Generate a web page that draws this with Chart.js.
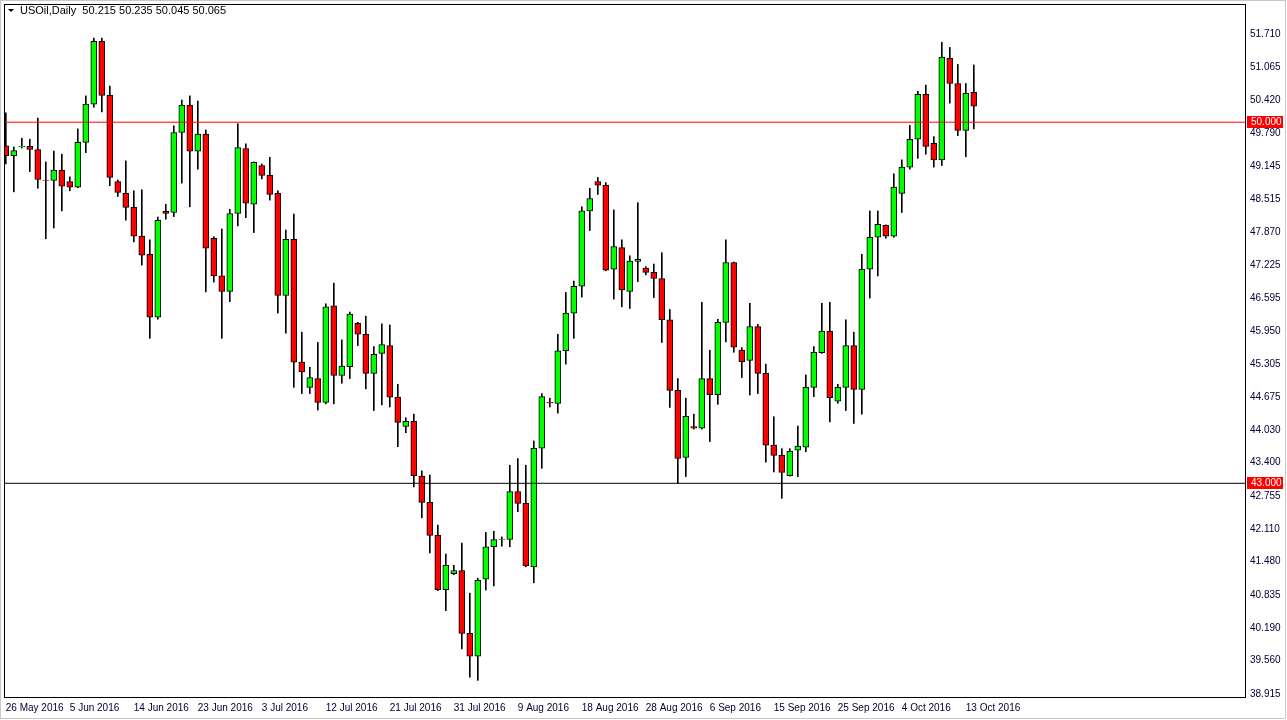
<!DOCTYPE html>
<html>
<head>
<meta charset="utf-8">
<script src="https://cdn.jsdelivr.net/npm/chart.js@4/dist/chart.umd.min.js"></script>
<style>
  html, body { margin: 0; padding: 0; background: #fff; }
  #wrap { width: 1287px; height: 720px; position: relative; }
</style>
</head>
<body>
<div id="wrap"><canvas id="chart"></canvas></div>
<script>
// daily bars, 26 May 2016 .. 13 Oct 2016 (with Sunday bars)
const opens = [49.54,49.35,49.52,49.53,49.47,48.88,48.87,49.07,48.85,48.74,49.61,50.35,51.57,50.52,48.85,48.62,48.35,47.79,47.44,46.22,
  48.27,48.25,49.80,50.33,49.44,49.77,47.75,47.02,46.72,48.23,49.49,48.41,49.16,48.97,48.62,46.64,47.73,45.35,44.86,45.03,
  44.57,46.44,45.09,45.26,46.10,45.89,45.13,45.52,45.67,44.67,44.10,44.20,43.14,42.63,41.99,40.94,41.25,41.31,40.09,39.65,
  41.14,41.77,41.91,41.91,42.84,42.61,41.38,43.68,44.57,44.55,45.57,46.30,46.82,48.28,48.85,48.78,47.15,47.57,46.72,47.30,
  47.17,47.09,46.97,46.17,44.80,43.50,44.10,44.07,45.03,44.72,46.12,47.28,45.58,45.38,46.04,45.13,43.74,43.54,43.15,43.64,
  43.70,44.86,45.53,45.95,44.59,44.86,45.67,44.82,47.15,47.77,48.00,47.79,48.62,49.13,49.67,50.54,49.59,49.27,51.24,50.75,
  49.84,50.58];
const highs = [50.18,49.52,49.69,49.67,50.08,49.23,49.44,49.38,48.94,49.87,50.51,51.63,51.63,50.70,48.88,49.25,48.67,48.69,47.72,48.16,
  48.41,49.93,50.43,50.51,50.41,49.85,47.78,47.93,48.31,49.97,49.58,49.23,49.19,49.32,48.67,47.91,48.22,45.93,45.25,45.73,
  46.48,46.88,45.78,46.32,46.12,46.24,45.65,46.09,46.07,44.92,44.27,44.34,43.24,43.16,42.19,41.63,41.41,41.84,40.87,41.16,
  42.05,42.07,41.96,43.35,43.48,43.35,43.82,44.74,44.65,45.89,46.70,46.92,48.36,48.72,48.93,48.83,48.30,47.72,47.41,48.44,
  47.20,47.25,47.47,46.37,45.03,44.65,44.34,46.51,45.58,46.18,47.72,47.29,45.63,46.49,46.08,45.31,44.29,43.67,43.67,44.11,
  45.10,45.65,46.49,46.51,44.92,46.17,45.93,47.44,48.28,48.28,48.01,49.00,49.27,49.94,50.60,50.72,49.72,51.55,51.45,51.12,
  50.75,51.11];
const lows = [49.19,48.65,49.50,49.04,48.72,47.74,47.95,48.28,48.67,48.73,49.41,50.29,50.20,48.77,48.56,48.10,47.68,47.23,45.81,46.18,
  48.12,48.17,48.82,48.36,49.09,46.71,46.90,45.81,46.52,47.99,48.15,47.86,48.90,48.49,46.30,45.91,44.86,44.74,44.74,44.42,
  44.54,44.54,44.94,45.03,45.67,44.83,44.41,44.52,44.48,43.71,43.98,42.93,42.33,41.65,40.92,40.53,41.23,39.79,39.24,39.18,
  40.93,41.01,41.78,41.77,42.45,41.38,41.07,43.29,44.48,44.36,45.31,45.81,46.61,47.90,48.60,47.12,46.57,46.42,46.39,46.91,
  47.04,46.60,45.73,44.47,43.00,43.13,44.05,44.05,43.81,44.53,45.74,45.54,45.05,44.71,44.74,43.41,43.22,42.71,43.14,43.13,
  43.61,44.68,45.52,44.19,44.55,44.41,44.16,44.34,46.59,47.02,47.75,47.77,48.25,49.09,49.30,49.38,49.13,49.16,50.37,49.74,
  49.33,49.87];
const closes = [49.35,49.45,49.53,49.47,48.89,48.87,49.07,48.76,48.74,49.61,50.35,51.57,50.52,48.93,48.64,48.35,47.79,47.42,46.22,48.10,
  48.23,49.80,50.33,49.44,49.77,47.56,47.02,46.72,48.23,49.51,48.43,49.22,48.97,48.60,46.64,47.73,45.35,45.16,45.05,44.57,
  46.42,45.09,45.27,46.28,45.89,45.13,45.50,45.69,44.67,44.18,44.20,43.15,42.63,41.99,40.94,41.41,41.31,40.09,39.65,41.12,
  41.77,41.91,41.92,42.84,42.61,41.40,43.68,44.68,44.56,45.57,46.30,46.82,48.28,48.52,48.78,47.13,47.59,46.75,47.31,47.34,
  47.09,46.97,46.17,44.80,43.48,44.30,44.07,45.03,44.72,46.12,47.28,45.64,45.36,46.04,45.13,43.74,43.54,43.21,43.62,43.72,
  44.86,45.54,45.95,44.66,44.86,45.67,44.82,47.15,47.77,48.02,47.79,48.74,49.13,49.67,50.54,49.53,49.27,51.26,50.75,49.84,
  50.56,50.31];
const dateLabels = ["26 May 2016","5 Jun 2016","14 Jun 2016","23 Jun 2016","3 Jul 2016","12 Jul 2016","21 Jul 2016","31 Jul 2016",
  "9 Aug 2016","18 Aug 2016","28 Aug 2016","6 Sep 2016","15 Sep 2016","25 Sep 2016","4 Oct 2016","13 Oct 2016"];
const priceTicks = [51.710,51.065,50.420,49.790,49.145,48.515,47.870,47.225,46.595,45.950,45.305,44.675,44.030,43.400,42.755,42.110,
  41.480,40.835,40.190,39.560,38.915];
const levels = [50.000, 43.000];
const levelColors = ["#ff0000", "#000000"];
const header = "USOil,Daily  50.215 50.235 50.045 50.065";

const xMin = -0.1, xMax = 154.9;
const bodies = opens.map((o, i) => ({ x: i, y: [o, closes[i]] }));
const wicks = highs.map((h, i) => ({ x: i, y: [lows[i], h] }));
const bodyColors = opens.map((o, i) => closes[i] >= o ? "#00ff00" : "#ff0000");

const fontFamily = "'Liberation Sans', Arial, sans-serif";
const font = { family: fontFamily, size: 10 };

const levelSets = levels.map((v, k) => ({
  type: "line", data: [{ x: xMin, y: v }, { x: xMax, y: v }], borderColor: levelColors[k],
  borderWidth: 1, pointRadius: 0, fill: false, order: 0
}));

const overlay = {
  id: "overlay",
  afterDraw(chart) {
    const { ctx, chartArea: a, scales: { y } } = chart;
    ctx.save();
    ctx.strokeStyle = "#000";
    ctx.lineWidth = 1;
    ctx.strokeRect(a.left - 0.5, a.top - 0.5, a.right - a.left + 1, a.bottom - a.top + 1);
    ctx.strokeStyle = "#c8c8c8";
    ctx.strokeRect(0.5, 0.5, 1285, 718);
    ctx.font = "10px " + fontFamily;
    ctx.textBaseline = "middle";
    levels.forEach(v => {
      const py = Math.round(y.getPixelForValue(v));
      ctx.fillStyle = "#ff0000";
      ctx.fillRect(a.right + 2, py - 6, 36, 12);
      ctx.fillStyle = "#fff";
      ctx.fillText(v.toFixed(3), a.right + 6, py + 0.5);
    });
    ctx.fillStyle = "#000";
    ctx.beginPath(); ctx.moveTo(8, 9); ctx.lineTo(14, 9); ctx.lineTo(11, 12); ctx.closePath(); ctx.fill();
    ctx.font = "11px " + fontFamily;
    ctx.fillText(header, 20, 11);
    ctx.restore();
  }
};

new Chart(document.getElementById("chart"), {
  type: "bar",
  data: {
    datasets: [
      { data: bodies, backgroundColor: bodyColors, borderColor: "#000", borderWidth: 1,
        borderSkipped: false, barThickness: 6, grouped: false, order: 1 },
      { data: wicks, backgroundColor: "#000", borderWidth: 0, barThickness: 1, grouped: false, order: 2 },
      ...levelSets
    ]
  },
  plugins: [overlay],
  options: {
    responsive: true,
    maintainAspectRatio: false,
    animation: false,
    layout: { padding: { left: 5, top: 5, right: 0, bottom: 0 } },
    plugins: { legend: { display: false }, tooltip: { enabled: false } },
    scales: {
      x: {
        type: "linear", min: xMin, max: xMax, offset: false,
        grid: { display: false, drawTicks: true, tickLength: 4, color: "#000" },
        border: { display: true, color: "#000" },
        afterBuildTicks: s => { s.ticks = dateLabels.map((_, k) => ({ value: k * 8 })); },
        afterFit: s => { s.height = 23; s.paddingLeft = 0; s.paddingRight = 0; },
        ticks: { autoSkip: false, maxRotation: 0, align: "start", padding: 1, color: "#000033", font,
          callback: (v) => dateLabels[v / 8] }
      },
      y: {
        position: "right", min: 38.857, max: 52.272,
        grid: { display: false, drawTicks: true, tickLength: 3, color: "#000" },
        border: { display: true, color: "#000" },
        afterBuildTicks: s => { s.ticks = priceTicks.map(v => ({ value: v })); },
        afterFit: s => { s.width = 42; s.paddingTop = 0; s.paddingBottom = 0; },
        ticks: { autoSkip: false, padding: 2, color: "#000033", font, callback: v => v.toFixed(3) }
      }
    }
  }
});
</script>
</body>
</html>
